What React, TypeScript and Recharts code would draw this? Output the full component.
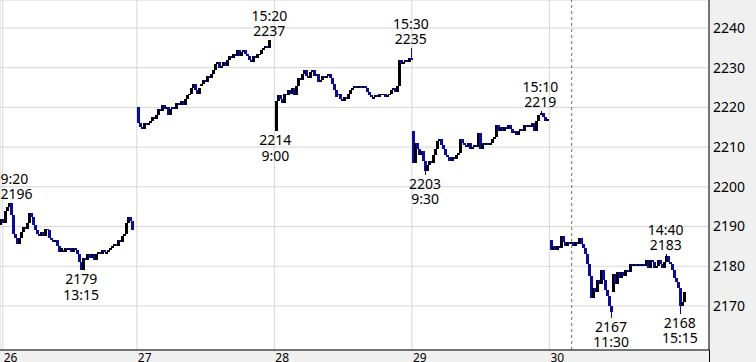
import { ComposedChart, Bar, XAxis, YAxis, CartesianGrid, ReferenceLine, ReferenceDot } from "recharts";

const UP = "#000000";
const DOWN = "#0a0aa8";
const FONT = "'Noto Sans', sans-serif";

const DAYS = ["26", "27", "28", "29", "30"];
// 5-minute bars: 9:00-11:30 (31) + 12:30-15:30 (37)
const SLOTS_PER_DAY = 68;
const AM_SLOTS = 31;
// the window opens partway into day 26, so its line sits on the first full bar
const FIRST_DAY_LINE = 1.2;

const PRICE_TICKS = [2170, 2180, 2190, 2200, 2210, 2220, 2230, 2240];

// [morning open, afternoon open] for each day
const sessionOpens = [
  [2190.5, 2184],
  [2220, 2225.5],
  [2214, 2223],
  [2214, 2210.5],
  [2186.5, 2173.5],
];

const closes26 = [
  2192, 2191, 2194, 2195, 2196, 2193, 2188, 2187, 2185.5, 2187,
  2188.5, 2190, 2189.5, 2191, 2193.5, 2192.5, 2190.5, 2189, 2188, 2187.5,
  2188.5, 2187.5, 2189.5, 2189, 2187, 2186.5, 2186, 2186.5, 2185, 2183.5,
  2184.5,
  2183.5, 2184.5, 2184, 2184.5, 2183.5, 2184.5, 2184, 2183, 2181, 2179,
  2182, 2181.5, 2183, 2182, 2183, 2181.5, 2183, 2183.5, 2183, 2184,
  2183.5, 2183.5, 2184, 2184.5, 2185, 2185.5, 2185, 2186.5, 2186, 2187.5,
  2188, 2191, 2192.5, 2191.5, 2189,
];

const closes27 = [
  2216, 2215, 2214.5, 2216, 2215.5, 2216, 2216.5, 2217.5, 2217, 2218,
  2219.5, 2219, 2220.5, 2219.5, 2220, 2218, 2219.5, 2220, 2219.5, 2221,
  2220.5, 2221.5, 2220.5, 2222, 2223, 2223.5, 2225, 2226, 2224.5, 2223.5,
  2225,
  2226, 2227, 2226.5, 2228, 2227.5, 2228.5, 2229.5, 2231, 2231.5, 2230,
  2230.5, 2231.5, 2230.5, 2232, 2233, 2232.5, 2233.5, 2233, 2234.5, 2233,
  2234, 2234.5, 2233.5, 2233, 2232, 2231.5, 2233, 2232.5, 2233.5, 2233.5,
  2234.5, 2235, 2235.5, 2235, 2237,
];

const closes28 = [
  2221.5, 2223, 2222, 2221, 2223.5, 2223, 2224.5, 2223.5, 2225, 2223,
  2225.5, 2227.5, 2227, 2228.5, 2229.5, 2228, 2227.5, 2229, 2229.5, 2228,
  2228.5, 2226.5, 2227, 2228, 2227.5, 2228, 2228.5, 2227.5, 2226, 2224.5,
  2222.5,
  2223.5, 2222, 2221.5, 2222.5, 2222, 2223.5, 2224.5, 2225, 2225.5, 2225,
  2225.5, 2225, 2225.5, 2225, 2224, 2223, 2222.5, 2222.5, 2223, 2222.5,
  2223.5, 2223, 2223.5, 2222.5, 2223, 2223.5, 2224.5, 2225, 2224, 2225.5,
  2232, 2231, 2231.5, 2232, 2231.5, 2232.5, 2232,
];

const closes29 = [
  2206, 2211, 2209.5, 2208, 2209, 2206.5, 2204, 2205.5, 2206.5, 2206,
  2208, 2209.5, 2211.5, 2212, 2210.5, 2209.5, 2208, 2207.5, 2206.5, 2207.5,
  2207, 2208, 2208.5, 2212, 2211, 2210.5, 2210, 2211, 2209.5, 2210,
  2210.5,
  2210, 2213.5, 2209.5, 2211, 2210.5, 2211, 2210.5, 2211, 2212, 2212.5,
  2215.5, 2214, 2215, 2214, 2215, 2214.5, 2215.5, 2214.5, 2213.5, 2214,
  2213, 2214, 2214.5, 2214, 2215.5, 2215, 2215.5, 2215, 2216, 2214,
  2216.5, 2218, 2218.5, 2217.5, 2216.5, 2217,
];

const closes30 = [
  2184, 2185, 2184, 2185, 2184.5, 2187.5, 2186, 2185, 2186, 2185.5,
  2186, 2185, 2186, 2185.5, 2187, 2185.5, 2184.5, 2183, 2180.5, 2177.5,
  2172, 2174.5, 2173.5, 2176.5, 2175.5, 2179, 2176.5, 2174, 2172.5, 2170,
  2168.5,
  2178, 2175.5, 2178.5, 2177, 2178.5, 2177.5, 2179, 2178.5, 2180.5, 2180,
  2180.5, 2180, 2180.5, 2180, 2180.5, 2180, 2181.5, 2179.5, 2181.5, 2181,
  2179.5, 2180, 2181.5, 2180.5, 2179.5, 2181, 2182.5, 2181, 2180.5, 2179,
  2177, 2176, 2174.5, 2170, 2171, 2173.5,
];

const dayCloses = [closes26, closes27, closes28, closes29, closes30];

// session highs / lows that get a time + price tag
const extremes = [
  { day: 0, slot: 4, kind: "high", price: 2196 },
  { day: 0, slot: 40, kind: "low", price: 2179 },
  { day: 1, slot: 65, kind: "high", price: 2237 },
  { day: 2, slot: 0, kind: "low", price: 2214 },
  { day: 2, slot: 67, kind: "high", price: 2235 },
  { day: 3, slot: 6, kind: "low", price: 2203 },
  { day: 3, slot: 63, kind: "high", price: 2219 },
  { day: 4, slot: 30, kind: "low", price: 2167 },
  { day: 4, slot: 57, kind: "high", price: 2183 },
  { day: 4, slot: 64, kind: "low", price: 2168 },
];

// dashed marker on the last day
const markerDay = 4;
const markerSlot = 10.5;

type Candle = { t: number; open: number; high: number; low: number; close: number };

function slotTime(slot: number) {
  const mins = slot < AM_SLOTS ? 9 * 60 + slot * 5 : 12 * 60 + 30 + (slot - AM_SLOTS) * 5;
  const m = mins % 60;
  return `${Math.floor(mins / 60)}:${m < 10 ? "0" : ""}${m}`;
}

const candles: Candle[] = [];
dayCloses.forEach((closes, d) => {
  closes.forEach((close, i) => {
    const open = i === 0 ? sessionOpens[d][0] : i === AM_SLOTS ? sessionOpens[d][1] : closes[i - 1];
    let high = Math.max(open, close);
    let low = Math.min(open, close);
    extremes
      .filter((e) => e.day === d && e.slot === i)
      .forEach((e) => {
        if (e.kind === "high") high = Math.max(high, e.price);
        else low = Math.min(low, e.price);
      });
    candles.push({ t: d * SLOTS_PER_DAY + i, open, high, low, close });
  });
});

const dayTicks = DAYS.map((_, d) => (d === 0 ? FIRST_DAY_LINE : d * SLOTS_PER_DAY - 0.5));

function CandleShape(props: any) {
  const { x, y, width, height, payload } = props;
  const { open, close, high, low } = payload as Candle;
  const cx = Math.round(x + width / 2);
  const top = Math.min(y, y + height);
  const h = Math.abs(height);
  const span = high - low;
  const toY = (v: number) => (span === 0 ? top : top + ((high - v) / span) * h);
  const color = close >= open ? UP : DOWN;
  const bodyTop = toY(Math.max(open, close));
  const bodyBottom = toY(Math.min(open, close));
  return (
    <g shapeRendering="crispEdges">
      <rect x={cx - 0.5} y={top} width={1} height={Math.max(h, 1.5)} fill={color} />
      <rect x={cx - 1.5} y={bodyTop} width={3} height={Math.max(bodyBottom - bodyTop, 1.5)} fill={color} />
    </g>
  );
}

function DayTick(props: any) {
  const { x, y, payload } = props;
  const idx = dayTicks.indexOf(payload.value);
  return (
    <text x={x + 1} y={y + 12} fontSize={12} fontFamily={FONT} fill="#000" textAnchor="start">
      {DAYS[idx]}
    </text>
  );
}

// rough advance widths of 14px Noto Sans, used to keep tags inside the left edge
const textWidth = (s: string) => [...s].reduce((w, ch) => w + (ch === ":" ? 3.8 : 8), 0);

function ExtremeTag({ cx, cy, kind, price, time }: any) {
  const line = (text: string, y: number) => (
    <text
      x={Math.max(cx, textWidth(text) / 2 + 0.5)}
      y={y}
      fontSize={14}
      fontFamily={FONT}
      fill="#000"
      textAnchor="middle"
    >
      {text}
    </text>
  );
  if (kind === "high") {
    return (
      <g>
        {line(time, cy - 19)}
        {line(String(price), cy - 4)}
      </g>
    );
  }
  return (
    <g>
      {line(String(price), cy + 14)}
      {line(time, cy + 29.5)}
    </g>
  );
}

export default function App() {
  return (
    <div style={{ position: "absolute", left: 0, top: 0, width: 756, height: 362, background: "#f0f0f0", fontFamily: FONT }}>
      <ComposedChart width={756} height={362} data={candles} margin={{ top: 0, right: 0, bottom: 0, left: 0 }}>
        <CartesianGrid stroke="#d6d6d6" fill="#ffffff" />
        <XAxis
          dataKey="t"
          type="number"
          domain={[-0.15, 350.4]}
          ticks={dayTicks}
          allowDataOverflow
          height={12}
          tickLine={false}
          tickSize={0}
          tickMargin={0}
          axisLine={{ stroke: "#000" }}
          tick={<DayTick />}
          interval={0}
        />
        <YAxis
          orientation="right"
          type="number"
          width={47}
          domain={[2158.9, 2247.05]}
          ticks={PRICE_TICKS}
          allowDataOverflow
          tickLine={false}
          tickSize={0}
          tickMargin={4}
          axisLine={{ stroke: "#000" }}
          tick={{ fontSize: 14, fontFamily: FONT, fill: "#000" }}
          interval={0}
        />
        <ReferenceLine
          x={markerDay * SLOTS_PER_DAY + markerSlot}
          stroke="#707070"
          strokeDasharray="3 3"
        />
        <Bar
          dataKey={(d: Candle) => [d.low, d.high]}
          shape={<CandleShape />}
          isAnimationActive={false}
        />
        {extremes.map((e) => (
          <ReferenceDot
            key={`${e.day}-${e.slot}`}
            x={e.day * SLOTS_PER_DAY + e.slot}
            y={e.price}
            r={0}
            ifOverflow="visible"
            shape={(p: any) => (
              <ExtremeTag cx={p.cx} cy={p.cy} kind={e.kind} price={e.price} time={slotTime(e.slot)} />
            )}
          />
        ))}
      </ComposedChart>
      {/* price scale border runs down through the date strip */}
      <div style={{ position: "absolute", left: 709, top: 350, width: 1, height: 12, background: "#000" }} />
    </div>
  );
}
